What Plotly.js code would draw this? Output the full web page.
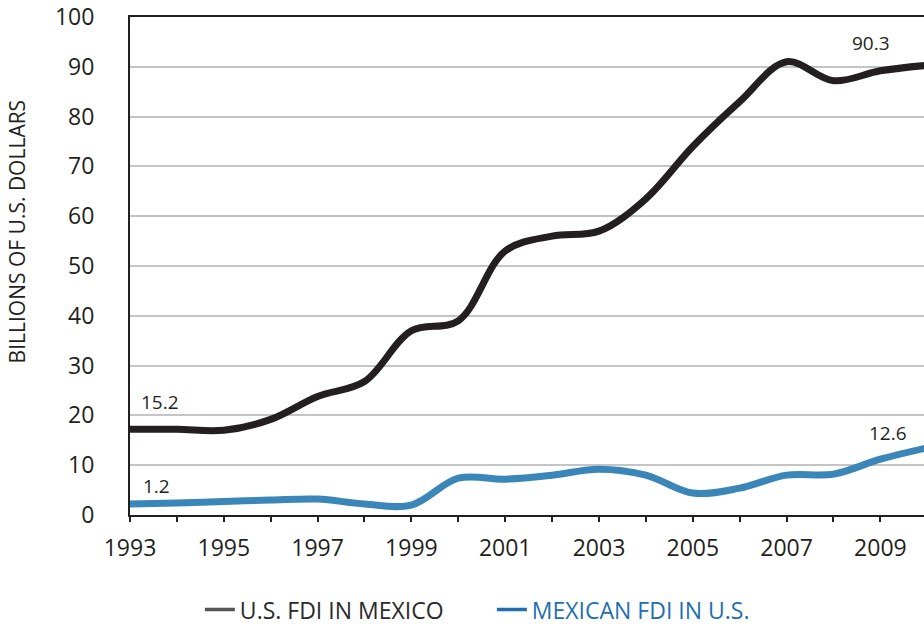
<!DOCTYPE html>
<html>
<head>
<meta charset="utf-8">
<script src="https://cdn.plot.ly/plotly-3.0.1.min.js"></script>
<style>html,body{margin:0;padding:0;background:#fff;}#chart{width:924px;height:626px;}</style>
</head>
<body>
<div id="chart"></div>
<script>
const years = [1993,1994,1995,1996,1997,1998,1999,2000,2001,2002,2003,2004,2005,2006,2007,2008,2009,2010];
const usFdiInMexico = [17.2,17.2,17.0,19.2,23.8,26.8,37.0,39.0,53.0,56.0,57.0,63.5,74.0,83.0,91.0,87.2,89.2,90.3];
const mexicanFdiInUs = [2.2,2.4,2.7,3.0,3.2,2.2,2.0,7.4,7.2,8.0,9.2,8.0,4.4,5.4,8.0,8.2,11.2,13.5];
const seriesNames = ['U.S. FDI IN MEXICO','MEXICAN FDI IN U.S.'];
const yTicks = [0,10,20,30,40,50,60,70,80,90,100];
const yTitle = 'BILLIONS OF U.S. DOLLARS';
const labels = [
  {text:'15.2', year:1993.65, value:22.7},
  {text:'1.2', year:1993.57, value:5.8},
  {text:'12.6', year:2009.17, value:16.5},
  {text:'90.3', year:2008.79, value:94.8}
];

const font = '"Open Sans", "Noto Sans", sans-serif';
const black = '#231f20';
const blue = '#3a86b8';

const traces = [
  {x: years, y: usFdiInMexico, name: seriesNames[0], type:'scatter', mode:'lines', showlegend:false,
   line:{color:black, width:7, shape:'spline', smoothing:1}},
  {x: years, y: mexicanFdiInUs, name: seriesNames[1], type:'scatter', mode:'lines', showlegend:false,
   line:{color:blue, width:7, shape:'spline', smoothing:1}},
  {x:[null], y:[null], name:'<span style="color:#2a2a2a">' + seriesNames[0] + '</span>', type:'scatter', mode:'lines',
   line:{color:'#555555', width:3.5}},
  {x:[null], y:[null], name:'<span style="color:#1f6fae">' + seriesNames[1] + '</span>', type:'scatter', mode:'lines',
   line:{color:'#1f6fae', width:3.5}}
];

const annotations = labels.map(l => ({x:l.year, y:l.value, xref:'x', yref:'y', text:l.text, showarrow:false,
     font:{size:19, family:font, color:'#231f20'}, xanchor:'center', yanchor:'middle'}));
annotations.push({x:-0.142, y:0.57, xref:'paper', yref:'paper', text:yTitle, textangle:-90, showarrow:false,
     font:{size:21, family:font, color:'#231f20'}, xanchor:'center', yanchor:'middle'});

const layout = {
  width:924, height:626,
  margin:{l:130, r:0, t:17, b:111, autoexpand:false},
  paper_bgcolor:'#fff', plot_bgcolor:'#fff',
  font:{family:font, color:'#231f20'},
  showlegend:true,
  legend:{orientation:'h', x:0.088, xanchor:'left', y:-0.19, yanchor:'middle',
          font:{size:23, family:font, color:'#333'}, itemwidth:30, tracegroupgap:0,
          entrywidth:247, entrywidthmode:'pixels'},
  xaxis:{range:[1993, 2009.93], tick0:1993, dtick:2, ticks:'outside', ticklen:5, tickwidth:2, tickcolor:black,
         minor:{dtick:1, tick0:1993, ticks:'outside', ticklen:5, tickwidth:2, tickcolor:black},
         showline:true, linecolor:black, linewidth:2, mirror:true, showgrid:false, zeroline:false,
         tickfont:{size:23, family:font, color:'#231f20'}, ticklabelstandoff:6, fixedrange:true},
  xaxis2:{overlaying:'x', anchor:'y', side:'bottom', range:[1993, 2009.93], tick0:1993, dtick:1, ticks:'inside', ticklen:5, tickwidth:2,
          tickcolor:black, showticklabels:false, showgrid:false, zeroline:false, showline:false},
  yaxis:{range:[0,100], tickvals:yTicks, ticks:'', showline:true, linecolor:black, linewidth:2,
         showgrid:true, gridcolor:'#c4c4c4', gridwidth:2, zeroline:false,
         tickfont:{size:23, family:font, color:'#231f20'}, ticklabelstandoff:29},
  annotations: annotations
};

Plotly.newPlot('chart', traces, layout, {displayModeBar:false, staticPlot:true});
</script>
</body>
</html>
